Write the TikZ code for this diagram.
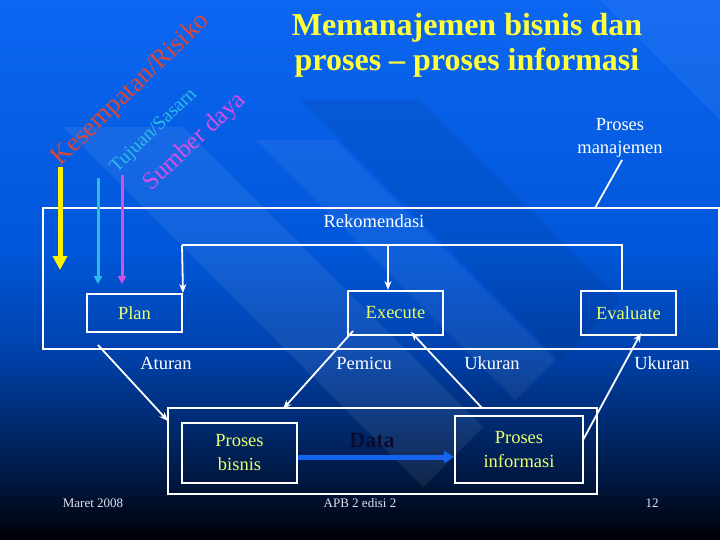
\documentclass[tikz,border=0pt]{standalone}
\usepackage{fontspec}
\setmainfont{Liberation Serif}
\usetikzlibrary{arrows.meta}
\definecolor{ttlyellow}{RGB}{255,255,60}
\definecolor{boxyellow}{RGB}{235,255,110}
\definecolor{kred}{RGB}{214,72,60}
\definecolor{kcyan}{RGB}{40,190,230}
\definecolor{kmag}{RGB}{210,80,230}
\definecolor{databl}{RGB}{20,100,240}
\definecolor{datatx}{RGB}{10,12,50}
\definecolor{foot}{RGB}{225,225,235}
\pgfdeclareverticalshading{slidebg}{100bp}{%
  rgb(0bp)=(0,0,0.02);
  rgb(25bp)=(0,0,0.02);
  rgb(30.5bp)=(0,0.09,0.25);
  rgb(36bp)=(0,0.17,0.45);
  rgb(42.6bp)=(0,0.26,0.68);
  rgb(51.9bp)=(0,0.34,0.85);
  rgb(75bp)=(0.05,0.40,0.95);
  rgb(100bp)=(0.05,0.40,0.95)}
\tikzset{
  wl/.style={draw=white, line width=1.8pt},
  warr/.style={draw=white, line width=1.8pt, -{Stealth[length=9pt,width=7pt]}},
  boxw/.style={draw=white, line width=2pt, inner sep=0pt},
  lbl/.style={text=white, font=\fontsize{18.5}{22}\selectfont, inner sep=0pt},
  boxtxt/.style={text=boxyellow, font=\fontsize{18.5}{24}\selectfont, align=center},
  foottxt/.style={text=foot, font=\fontsize{13}{15}\selectfont, inner sep=0pt},
}
\begin{document}
\begin{tikzpicture}[x=1pt,y=-1pt]
\useasboundingbox (0,0) rectangle (720,540);
\shade[shading=slidebg] (0,0) rectangle (720,540);
% subtle diagonal bands of the slide background
\begin{scope}
\clip (0,0) rectangle (720,540);
\fill[white, opacity=0.07] (423,487) -- (483,427) -- (183,127) -- (63,127) -- (363,427) -- cycle;
\fill[white, opacity=0.06] (515,400) -- (555,360) -- (335,140) -- (255,140) -- (475,360) -- cycle;
\fill[black, opacity=0.07] (560,360) -- (620,300) -- (420,100) -- (300,100) -- (500,300) -- cycle;
\fill[white, opacity=0.05] (600,0) -- (720,0) -- (720,120) -- cycle;
\end{scope}

% title
\node[text=ttlyellow, font=\fontsize{32}{35}\selectfont\bfseries, align=center] (title) at (467,45)
  {Memanajemen bisnis dan\\proses -- proses informasi};

% rotated labels
\node[text=kred, font=\fontsize{26.5}{28}\selectfont, rotate=44, inner sep=0pt] (kes) at (131,90) {Kesempatan/Risiko};
\node[text=kcyan, font=\fontsize{19.5}{21}\selectfont, rotate=44, inner sep=0pt] (tuj) at (154,131) {Tujuan/Sasarn};
\node[text=kmag, font=\fontsize{25}{27}\selectfont, rotate=43, inner sep=0pt] (sum) at (195,142) {Sumber daya};

% big management rectangle
\node[boxw, minimum width=676pt, minimum height=141pt] (mgmt) at (381,278.5) {};

% colored arrows
\coordinate (ys) at (60,167);
\coordinate (ye) at (60,270);
\coordinate (cs) at (98,178);
\coordinate (ce) at (98,284);
\coordinate (ms) at (122,175);
\coordinate (me) at (122,284);
\draw[draw=yellow, line width=5pt, -{Triangle[length=14pt,width=14pt]}] (ys) -- (ye);
\draw[draw=kcyan, line width=3pt, -{Triangle[length=8pt,width=8pt]}] (cs) -- (ce);
\draw[draw=kmag, line width=3pt, -{Triangle[length=8pt,width=8pt]}] (ms) -- (me);

% Proses manajemen
\node[lbl, align=center, font=\fontsize{18.5}{23}\selectfont] (pm) at (620,138) {Proses\\manajemen};
\coordinate (pmA) at (622,160);
\coordinate (pmB) at (595,208);
\draw[wl] (pmA) -- (pmB);

\node[lbl] (rek) at (374,221) {Rekomendasi};

% PDCA boxes
\node[boxw, minimum width=95pt, minimum height=38pt, boxtxt] (plan) at (134.5,313) {Plan};
\node[boxw, minimum width=95pt, minimum height=44pt, boxtxt] (exec) at (395.5,313) {Execute};
\node[boxw, minimum width=95pt, minimum height=44pt, boxtxt] (eval) at (628.5,313) {Evaluate};

% feedback lines
\coordinate (fbL) at (182,245);
\coordinate (fbM) at (388,245);
\coordinate (fbR) at (622,245);
\draw[wl] (fbR |- eval.north) -- (fbR) -- (fbL);
\draw[warr] (fbL) -- (plan.north east);
\draw[warr] (fbM) -- (fbM |- exec.north);

% labels
\node[lbl] (atur) at (166,363) {Aturan};
\node[lbl] (pemi) at (364,363) {Pemicu};
\node[lbl] (uk1) at (492,363) {Ukuran};
\node[lbl] (uk2) at (662,363) {Ukuran};

% bottom boxes
\node[boxw, minimum width=429pt, minimum height=86pt] (bot) at (382.5,451) {};
\node[boxw, minimum width=115pt, minimum height=60pt, boxtxt] (pbis) at (239.5,453) {Proses\\bisnis};
\node[boxw, minimum width=128pt, minimum height=67pt, boxtxt] (pinf) at (519,449.5) {Proses\\informasi};
\node[text=datatx, font=\fontsize{22}{24}\selectfont\bfseries] (data) at (372,440) {Data};
\draw[draw=databl, line width=5pt, -{Triangle[length=10pt,width=12pt]}] (pbis.east |- 0,457) -- (pinf.west |- 0,457);

% diagonal arrows
\coordinate (p1) at (98,345);
\coordinate (p2) at (168,421);
\draw[warr] (p1) -- (p2);
\coordinate (e1) at (353,331);
\coordinate (e2) at (283,409);
\draw[warr] (e1) -- (e2);
\coordinate (u1) at (482,408);
\coordinate (u2) at (411,332);
\draw[warr] (u1) -- (u2);
\coordinate (v1) at (583,440);
\coordinate (v2) at (641,333);
\draw[warr] (v1) -- (v2);

% footer
\node[foottxt] (f1) at (93,503) {Maret 2008};
\node[foottxt] (f2) at (360,503) {APB 2 edisi 2};
\node[foottxt] (f3) at (652,503) {12};
\end{tikzpicture}
\end{document}
